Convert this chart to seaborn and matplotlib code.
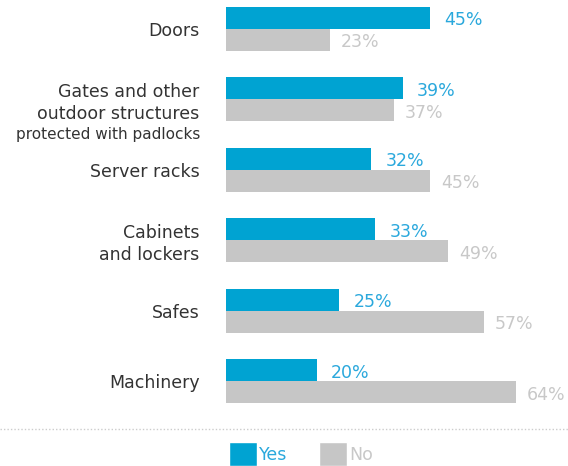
import numpy as np
import pandas as pd
import seaborn as sns
import matplotlib.pyplot as plt
from matplotlib.lines import Line2D
from matplotlib.patches import Patch

# data
categories = ["Doors", "Gates", "Server racks", "Cabinets", "Safes", "Machinery"]
tick_labels = ["Doors", "Gates and other\noutdoor structures", "Server racks",
               "Cabinets\nand lockers", "Safes", "Machinery"]
yes_vals = [45, 39, 32, 33, 25, 20]
no_vals = [23, 37, 45, 49, 57, 64]

blue = "#00A3D2"
grey = "#C6C6C6"
blue_txt = "#2AA8DC"
grey_txt = "#C8C8C8"

df = pd.DataFrame({
    "category": categories * 2,
    "answer": ["Yes"] * len(categories) + ["No"] * len(categories),
    "value": yes_vals + no_vals,
})

sns.set_style("white")
plt.rcParams['font.family'] = ['DejaVu Sans']

fig = plt.figure(figsize=(5.68, 4.66), dpi=100)
ax = fig.add_axes([226 / 568, 56 / 466, 1 - 226 / 568, 410 / 466])

sns.barplot(data=df, y="category", x="value", hue="answer", orient="h",
            palette={"Yes": blue, "No": grey}, width=0.62, gap=0,
            saturation=1, legend=False, linewidth=0, ax=ax)

ax.set_xlim(0, 75.5)
ax.set_ylim(5.41, -0.41)
ax.set_xlabel("")
ax.set_ylabel("")
ax.set_xticks([])
ax.set_yticks(range(len(categories)))
ax.set_yticklabels(tick_labels, fontsize=12.5, color="#333333", linespacing=1.25)
ax.tick_params(axis="y", length=0, pad=19)
sns.despine(ax=ax, left=True, bottom=True)

# small third line of the gates label
ax.text(-26 / 4.53, 1.5, "protected with padlocks", fontsize=11, color="#333333",
        ha="right", va="center")

# value labels
for i, (y, n) in enumerate(zip(yes_vals, no_vals)):
    ax.text(y + 3.2, i - 0.12, f"{y}%", color=blue_txt, fontsize=12.5,
            ha="left", va="center")
    ax.text(n + 2.4, i + 0.19, f"{n}%", color=grey_txt, fontsize=12.5,
            ha="left", va="center")

# dotted separator
fig.add_artist(Line2D([0, 1], [1 - 429 / 466, 1 - 429 / 466], transform=fig.transFigure,
                      color="#CCCCCC", linestyle=(0, (1, 1.5)), linewidth=1))

handles = [Patch(facecolor=blue), Patch(facecolor=grey)]
leg = fig.legend(handles, ["Yes", "No"], loc="center", ncol=2, frameon=False,
                 bbox_to_anchor=(301 / 568, 1 - 454 / 466), fontsize=12.5,
                 handlelength=1.6, handleheight=1.7, handletextpad=0.15,
                 columnspacing=1.8)
for t, c in zip(leg.get_texts(), [blue_txt, grey_txt]):
    t.set_color(c)

fig.savefig("out.png", dpi=100)
